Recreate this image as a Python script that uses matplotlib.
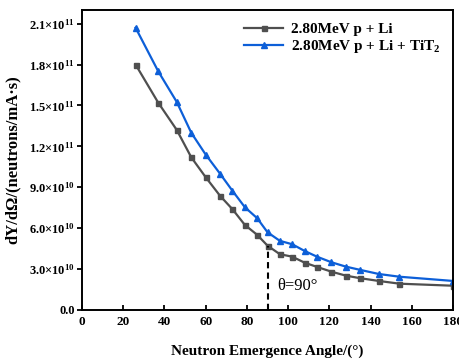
import matplotlib
matplotlib.use("Agg")
import matplotlib.pyplot as plt
from matplotlib.ticker import FixedLocator, FixedFormatter

# Data
angles = [26, 37, 46, 53, 60, 67, 73, 79, 85, 90, 96, 102, 108, 114, 121, 128, 135, 144, 154, 180]
li_yield = [18.0, 15.2, 13.2, 11.2, 9.74, 8.37, 7.39, 6.24, 5.51, 4.72, 4.09, 3.91, 3.47, 3.16,
            2.81, 2.52, 2.33, 2.13, 1.93, 1.78]  # x1e10
li_tit2_yield = [20.7, 17.5, 15.25, 13.0, 11.4, 9.99, 8.74, 7.54, 6.73, 5.70, 5.07, 4.82, 4.33,
                 3.91, 3.50, 3.18, 2.94, 2.64, 2.44, 2.13]  # x1e10

y_ticks = [0, 3e10, 6e10, 9e10, 1.2e11, 1.5e11, 1.8e11, 2.1e11]
y_tick_labels = ["0.0", r"3.0×10$^{10}$", r"6.0×10$^{10}$", r"9.0×10$^{10}$", r"1.2×10$^{11}$",
                 r"1.5×10$^{11}$", r"1.8×10$^{11}$", r"2.1×10$^{11}$"]
x_ticks = [0, 20, 40, 60, 80, 100, 120, 140, 160, 180]

plt.rcParams['font.family'] = ['Liberation Serif', 'DejaVu Serif']
plt.rcParams['mathtext.fontset'] = 'custom'
plt.rcParams['mathtext.rm'] = 'Liberation Serif:bold'
plt.rcParams['mathtext.it'] = 'Liberation Serif:bold'
plt.rcParams['mathtext.bf'] = 'Liberation Serif:bold'

fig = plt.figure(figsize=(4.59, 3.59), dpi=100)
ax = fig.add_axes([0.1786, 0.1365, 0.8084, 0.8357])

li = [v * 1e10 for v in li_yield]
lit = [v * 1e10 for v in li_tit2_yield]

ax.plot(angles, li, color='#4f4f4f', marker='s', markersize=3.6, linewidth=1.6,
        label='2.80MeV p + Li')
ax.plot(angles, lit, color='#0d5fd8', marker='^', markersize=4.6, linewidth=1.6,
        label=r'2.80MeV p + Li + TiT$_2$')

# dashed marker line at 90 degrees
ax.vlines(90, 0, li[angles.index(90)], colors='black', linestyles=(0, (3, 2)), linewidth=1.5)
ax.text(94.5, 1.75e10, 'θ=90°', fontsize=12, ha='left', va='center')

ax.set_xlim(0, 180)
ax.set_ylim(0, 2.2e11)
ax.xaxis.set_major_locator(FixedLocator(x_ticks))
ax.yaxis.set_major_locator(FixedLocator(y_ticks))
ax.yaxis.set_major_formatter(FixedFormatter(y_tick_labels))

for lab in ax.get_xticklabels():
    lab.set_fontweight('bold')
    lab.set_fontsize(9.5)
for lab in ax.get_yticklabels():
    lab.set_fontweight('bold')
    lab.set_fontsize(9)

ax.tick_params(axis='x', direction='in', length=3.5, width=1.3, pad=4)
ax.tick_params(axis='y', direction='out', length=3.5, width=1.3, pad=1.5)
for sp in ax.spines.values():
    sp.set_linewidth(1.4)

ax.set_xlabel('Neutron Emergence Angle/(°)', fontsize=11, fontweight='bold', labelpad=12)
ax.set_ylabel('dY/dΩ/(neutrons/mA·s)', fontsize=12, fontweight='bold', labelpad=6)

ax.legend(loc='upper right', frameon=False, prop={'weight': 'bold', 'size': 11},
          handlelength=2.6, handletextpad=0.5, borderaxespad=0.4, labelspacing=0.15)

fig.savefig('out.png', dpi=100)
